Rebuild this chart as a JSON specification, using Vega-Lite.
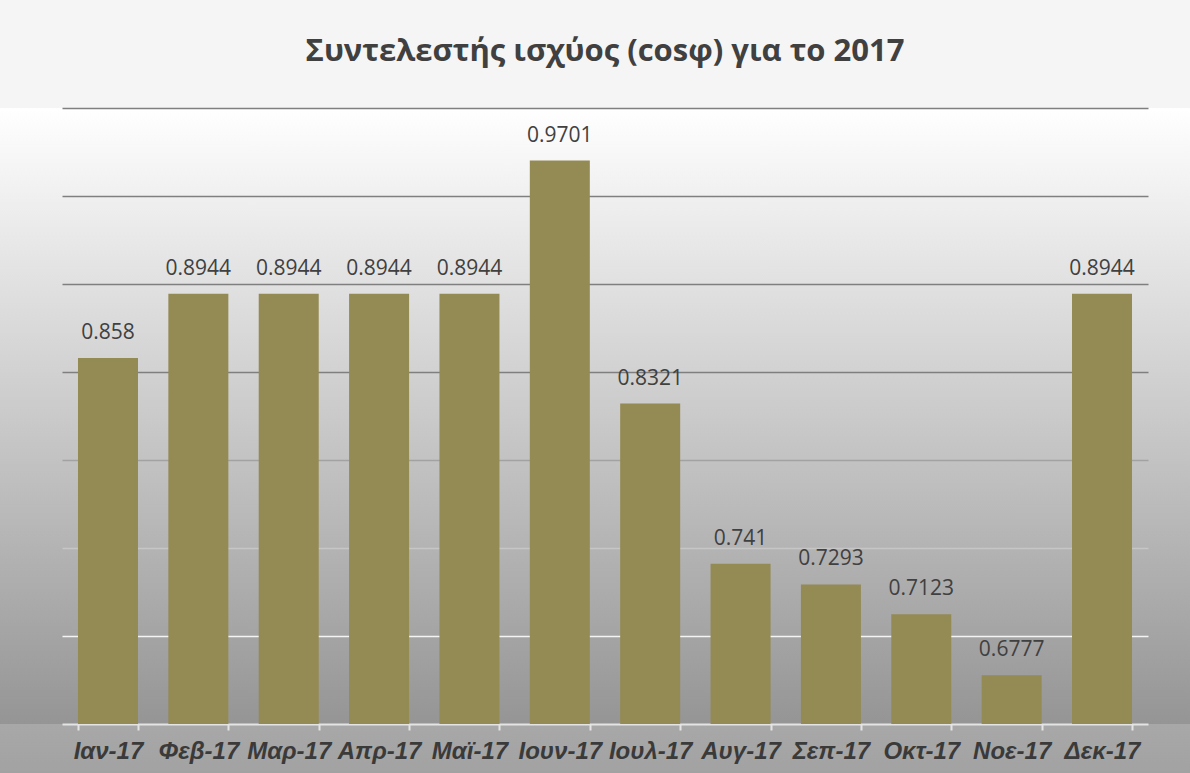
{
  "$schema": "https://vega.github.io/schema/vega-lite/v6.json",
  "width": 1190,
  "height": 665,
  "autosize": {"type": "none"},
  "padding": {"top": 108, "left": 0, "right": 0, "bottom": 0},
  "background": "#f5f5f5",
  "title": {
    "text": "Συντελεστής ισχύος (cosφ) για το 2017",
    "font": "Open Sans",
    "fontSize": 31,
    "fontWeight": "bold",
    "color": "#404040",
    "anchor": "middle",
    "frame": "group",
    "baseline": "alphabetic",
    "offset": 16,
    "dx": 10
  },
  "data": {
    "values": [
      {"month": "Ιαν-17", "cosphi": 0.858},
      {"month": "Φεβ-17", "cosphi": 0.8944},
      {"month": "Μαρ-17", "cosphi": 0.8944},
      {"month": "Απρ-17", "cosphi": 0.8944},
      {"month": "Μαϊ-17", "cosphi": 0.8944},
      {"month": "Ιουν-17", "cosphi": 0.9701},
      {"month": "Ιουλ-17", "cosphi": 0.8321},
      {"month": "Αυγ-17", "cosphi": 0.741},
      {"month": "Σεπ-17", "cosphi": 0.7293},
      {"month": "Οκτ-17", "cosphi": 0.7123},
      {"month": "Νοε-17", "cosphi": 0.6777},
      {"month": "Δεκ-17", "cosphi": 0.8944}
    ]
  },
  "encoding": {
    "x": {
      "field": "month",
      "type": "nominal",
      "sort": null,
      "scale": {"range": [62, 1148], "paddingInner": 0.336, "paddingOuter": 0.177},
      "axis": {
        "title": null,
        "orient": "bottom",
        "offset": -49,
        "grid": false,
        "domainColor": "#e4e4e4",
        "domainWidth": 2,
        "tickColor": "#e4e4e4",
        "tickWidth": 2,
        "tickSize": 6,
        "tickBand": "extent",
        "labelAngle": 0,
        "labelFont": "Liberation Sans",
        "labelFontSize": 24,
        "labelFontStyle": "italic",
        "labelFontWeight": "bold",
        "labelColor": "#3a3a3a",
        "labelPadding": 9
      }
    },
    "y": {
      "field": "cosphi",
      "type": "quantitative",
      "scale": {"domain": [0.65, 1.0], "range": [616, 0], "nice": false, "zero": false},
      "axis": {
        "title": null,
        "labels": false,
        "ticks": false,
        "domain": false,
        "grid": true,
        "values": [0.7, 0.75, 0.8, 0.85, 0.9, 0.95, 1.0],
        "gridWidth": 1.5,
        "gridColor": {
          "condition": [
            {"test": "datum.value < 0.72", "value": "#f4f4f4"},
            {"test": "datum.value < 0.77", "value": "#c6c6c6"},
            {"test": "datum.value < 0.82", "value": "#a2a2a2"}
          ],
          "value": "#7f7f7f"
        }
      }
    }
  },
  "layer": [
    {
      "mark": {"type": "bar", "color": "#948a54"},
      "encoding": {"y2": {"datum": 0.65}}
    },
    {
      "mark": {
        "type": "text",
        "font": "Open Sans",
        "fontSize": 21,
        "color": "#404040",
        "baseline": "alphabetic",
        "dy": -19
      },
      "encoding": {"text": {"field": "cosphi", "type": "quantitative"}}
    }
  ],
  "config": {
    "view": {
      "stroke": null,
      "fill": {
        "gradient": "linear",
        "x1": 0, "y1": 0, "x2": 0, "y2": 1,
        "stops": [
          {"offset": 0, "color": "#ffffff"},
          {"offset": 0.926, "color": "#959595"},
          {"offset": 0.9265, "color": "#a8a8a8"},
          {"offset": 1, "color": "#a2a2a2"}
        ]
      }
    }
  }
}
